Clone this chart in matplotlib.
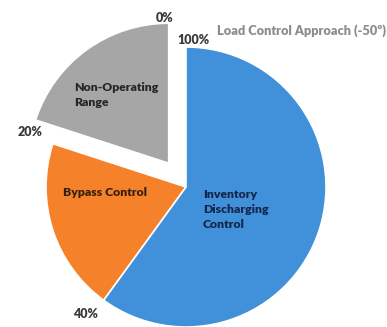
import numpy as np
import matplotlib
matplotlib.use('Agg')
import matplotlib.pyplot as plt

plt.rcParams['font.family'] = ['Lato', 'DejaVu Sans']

# data
categories = ['Non-Operating\nRange', 'Bypass Control', 'Inventory\nDischarging\nControl']
shares = [20, 20, 60]
colors = ['#a6a6a6', '#f5822a', '#4190da']
explode = [0.21, 0, 0]
boundary_labels = ['0%', '20%', '40%', '100%']
title = 'Load Control Approach (-50º)'

fig = plt.figure(figsize=(3.87, 3.27), dpi=100)
ax = fig.add_axes([0, 0, 1, 1])

wedges, _ = ax.pie(shares, colors=colors, explode=explode, startangle=90,
                   counterclock=True, radius=1.0,
                   wedgeprops=dict(edgecolor='white', linewidth=1.2))

# slice labels
lab = dict(fontsize=8.8, fontweight='heavy', va='center', ha='left', linespacing=1.45)
ax.text(-0.80, 0.66, categories[0], color='#262626', **lab)
ax.text(-0.88, -0.04, categories[1], color='#33200c', **lab)
ax.text(0.12, -0.16, categories[2], color='#14264a', **lab)

# boundary percentage labels from cumulative shares
cum = np.concatenate([[0], np.cumsum(shares)]) / sum(shares)
ang = np.deg2rad(90 + 360 * cum[:3])
off = 0.21 * np.array([np.cos(np.deg2rad(126)), np.sin(np.deg2rad(126))])
pct = dict(fontsize=9, fontweight='heavy', color='#3a3a3a', va='center')
ax.text(off[0] - 0.03, off[1] + np.sin(ang[0]) * 1.04, boundary_labels[0],
        ha='center', **pct)
ax.text(1.12 * np.cos(ang[1]) - 0.05, 1.12 * np.sin(ang[1]) + 0.05, boundary_labels[1],
        ha='center', **pct)
ax.text(1.12 * np.cos(ang[2]) - 0.06, 1.12 * np.sin(ang[2]), boundary_labels[2],
        ha='center', **pct)
ax.text(-0.06, 1.05, boundary_labels[3], ha='left', **pct)

ax.text(0.22, 1.12, title, fontsize=9.2, fontweight='heavy', color='#8c8c8c',
        ha='left', va='center')

ax.set_xlim(-186 / 140, (387 - 186) / 140)
ax.set_ylim(-(327 - 187) / 140, 187 / 140)
ax.set_aspect('auto')
ax.axis('off')

plt.savefig('out.png', dpi=100)
